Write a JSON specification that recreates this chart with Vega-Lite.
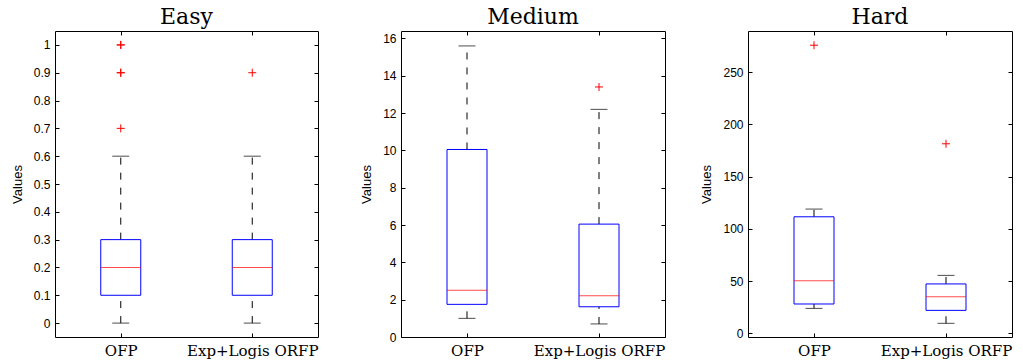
{
  "$schema": "https://vega.github.io/schema/vega-lite/v6.json",
  "background": "white",
  "padding": {"left": 10, "top": 5, "right": 0, "bottom": 0},
  "bounds": "flush",
  "spacing": 83,
  "config": {
    "view": {"stroke": "black", "strokeWidth": 1},
    "axis": {"domain": false, "grid": false, "tickColor": "black", "tickSize": -4, "labelPadding": 9, "labelFont": "Liberation Sans", "labelFontSize": 12, "labelColor": "black", "titleFont": "Liberation Sans", "titleFontSize": 13, "titleFontWeight": "normal", "titleColor": "black", "titlePadding": 9},
    "axisX": {"labelFont": "DejaVu Serif", "labelFontSize": 15, "labelAngle": 0, "labelPadding": 10},
    "title": {"font": "DejaVu Serif", "fontSize": 22, "fontWeight": "normal", "color": "black", "offset": 2}
  },
  "datasets": {
    "boxes": [
      {"panel": "Easy", "group": "OFP", "lo": 0, "q1": 0.1, "med": 0.2, "q3": 0.3, "hi": 0.6},
      {"panel": "Easy", "group": "Exp+Logis ORFP", "lo": 0, "q1": 0.1, "med": 0.2, "q3": 0.3, "hi": 0.6},
      {"panel": "Medium", "group": "OFP", "lo": 1.0, "q1": 1.75, "med": 2.5, "q3": 10.05, "hi": 15.6},
      {"panel": "Medium", "group": "Exp+Logis ORFP", "lo": 0.7, "q1": 1.62, "med": 2.21, "q3": 6.05, "hi": 12.2},
      {"panel": "Hard", "group": "OFP", "lo": 23.9, "q1": 28.1, "med": 50.4, "q3": 111.6, "hi": 119.0},
      {"panel": "Hard", "group": "Exp+Logis ORFP", "lo": 9.6, "q1": 22.0, "med": 35.1, "q3": 47.3, "hi": 55.5}
    ],
    "outliers": [
      {"panel": "Easy", "group": "OFP", "value": 1.0},
      {"panel": "Easy", "group": "OFP", "value": 1.0},
      {"panel": "Easy", "group": "OFP", "value": 0.9},
      {"panel": "Easy", "group": "OFP", "value": 0.9},
      {"panel": "Easy", "group": "OFP", "value": 0.7},
      {"panel": "Easy", "group": "Exp+Logis ORFP", "value": 0.9},
      {"panel": "Medium", "group": "Exp+Logis ORFP", "value": 13.4},
      {"panel": "Hard", "group": "OFP", "value": 275.9},
      {"panel": "Hard", "group": "Exp+Logis ORFP", "value": 181.5}
    ]
  },
  "hconcat": [
    {
      "width": 263, "height": 306,
      "title": "Easy",
      "resolve": {"axis": {"x": "independent", "y": "independent"}},
      "layer": [
        {"data": {"name": "boxes"}, "transform": [{"filter": "datum.panel === 'Easy'"}],
         "mark": {"type": "rule", "color": "black", "strokeDash": [7, 8], "strokeWidth": 1},
         "encoding": {
           "x": {"field": "group", "type": "nominal", "scale": {"type": "point", "padding": 0.5, "domain": ["OFP", "Exp+Logis ORFP"]}, "axis": {"title": null}},
           "y": {"field": "q3", "type": "quantitative", "scale": {"domain": [-0.05, 1.05], "nice": false, "zero": false}, "axis": {"title": "Values", "values": [0, 0.1, 0.2, 0.3, 0.4, 0.5, 0.6, 0.7, 0.8, 0.9, 1], "format": "~g"}},
           "y2": {"field": "hi"}}},
        {"data": {"name": "boxes"}, "transform": [{"filter": "datum.panel === 'Easy'"}],
         "mark": {"type": "rule", "color": "black", "strokeDash": [7, 8], "strokeWidth": 1},
         "encoding": {
           "x": {"field": "group", "type": "nominal", "scale": {"type": "point", "padding": 0.5, "domain": ["OFP", "Exp+Logis ORFP"]}, "axis": null},
           "y": {"field": "lo", "type": "quantitative", "scale": {"domain": [-0.05, 1.05], "nice": false, "zero": false}, "axis": null},
           "y2": {"field": "q1"}}},
        {"data": {"name": "boxes"}, "transform": [{"filter": "datum.panel === 'Easy'"}],
         "mark": {"type": "tick", "color": "black", "size": 17, "thickness": 1},
         "encoding": {
           "x": {"field": "group", "type": "nominal", "scale": {"type": "point", "padding": 0.5, "domain": ["OFP", "Exp+Logis ORFP"]}, "axis": {"orient": "top", "labels": false, "title": null}},
           "y": {"field": "hi", "type": "quantitative", "scale": {"domain": [-0.05, 1.05], "nice": false, "zero": false}, "axis": {"orient": "right", "labels": false, "title": null, "values": [0, 0.1, 0.2, 0.3, 0.4, 0.5, 0.6, 0.7, 0.8, 0.9, 1]}}}},
        {"data": {"name": "boxes"}, "transform": [{"filter": "datum.panel === 'Easy'"}],
         "mark": {"type": "tick", "color": "black", "size": 17, "thickness": 1},
         "encoding": {
           "x": {"field": "group", "type": "nominal", "scale": {"type": "point", "padding": 0.5, "domain": ["OFP", "Exp+Logis ORFP"]}, "axis": null},
           "y": {"field": "lo", "type": "quantitative", "scale": {"domain": [-0.05, 1.05], "nice": false, "zero": false}, "axis": null}}},
        {"data": {"name": "boxes"}, "transform": [{"filter": "datum.panel === 'Easy'"}],
         "mark": {"type": "bar", "width": 40, "fillOpacity": 0, "stroke": "#0000ff", "strokeWidth": 1},
         "encoding": {
           "x": {"field": "group", "type": "nominal", "scale": {"type": "point", "padding": 0.5, "domain": ["OFP", "Exp+Logis ORFP"]}, "axis": null},
           "y": {"field": "q3", "type": "quantitative", "scale": {"domain": [-0.05, 1.05], "nice": false, "zero": false}, "axis": null},
           "y2": {"field": "q1"}}},
        {"data": {"name": "boxes"}, "transform": [{"filter": "datum.panel === 'Easy'"}],
         "mark": {"type": "tick", "color": "#ff0000", "size": 40, "thickness": 1},
         "encoding": {
           "x": {"field": "group", "type": "nominal", "scale": {"type": "point", "padding": 0.5, "domain": ["OFP", "Exp+Logis ORFP"]}, "axis": null},
           "y": {"field": "med", "type": "quantitative", "scale": {"domain": [-0.05, 1.05], "nice": false, "zero": false}, "axis": null}}},
        {"data": {"name": "outliers"}, "transform": [{"filter": "datum.panel === 'Easy'"}],
         "mark": {"type": "point", "shape": "M-1,0L1,0M0,-1L0,1", "size": 64, "filled": false, "stroke": "#ff0000", "strokeWidth": 1, "opacity": 1},
         "encoding": {
           "x": {"field": "group", "type": "nominal", "scale": {"type": "point", "padding": 0.5, "domain": ["OFP", "Exp+Logis ORFP"]}, "axis": null},
           "y": {"field": "value", "type": "quantitative", "scale": {"domain": [-0.05, 1.05], "nice": false, "zero": false}, "axis": null}}}
      ]
    },
    {
      "width": 264, "height": 306,
      "title": "Medium",
      "resolve": {"axis": {"x": "independent", "y": "independent"}},
      "layer": [
        {"data": {"name": "boxes"}, "transform": [{"filter": "datum.panel === 'Medium'"}],
         "mark": {"type": "rule", "color": "black", "strokeDash": [7, 8], "strokeWidth": 1},
         "encoding": {
           "x": {"field": "group", "type": "nominal", "scale": {"type": "point", "padding": 0.5, "domain": ["OFP", "Exp+Logis ORFP"]}, "axis": {"title": null}},
           "y": {"field": "q3", "type": "quantitative", "scale": {"domain": [0, 16.4], "nice": false, "zero": false}, "axis": {"title": "Values", "values": [0, 2, 4, 6, 8, 10, 12, 14, 16], "format": "d"}},
           "y2": {"field": "hi"}}},
        {"data": {"name": "boxes"}, "transform": [{"filter": "datum.panel === 'Medium'"}],
         "mark": {"type": "rule", "color": "black", "strokeDash": [7, 8], "strokeWidth": 1},
         "encoding": {
           "x": {"field": "group", "type": "nominal", "scale": {"type": "point", "padding": 0.5, "domain": ["OFP", "Exp+Logis ORFP"]}, "axis": null},
           "y": {"field": "lo", "type": "quantitative", "scale": {"domain": [0, 16.4], "nice": false, "zero": false}, "axis": null},
           "y2": {"field": "q1"}}},
        {"data": {"name": "boxes"}, "transform": [{"filter": "datum.panel === 'Medium'"}],
         "mark": {"type": "tick", "color": "black", "size": 17, "thickness": 1},
         "encoding": {
           "x": {"field": "group", "type": "nominal", "scale": {"type": "point", "padding": 0.5, "domain": ["OFP", "Exp+Logis ORFP"]}, "axis": {"orient": "top", "labels": false, "title": null}},
           "y": {"field": "hi", "type": "quantitative", "scale": {"domain": [0, 16.4], "nice": false, "zero": false}, "axis": {"orient": "right", "labels": false, "title": null, "values": [0, 2, 4, 6, 8, 10, 12, 14, 16]}}}},
        {"data": {"name": "boxes"}, "transform": [{"filter": "datum.panel === 'Medium'"}],
         "mark": {"type": "tick", "color": "black", "size": 17, "thickness": 1},
         "encoding": {
           "x": {"field": "group", "type": "nominal", "scale": {"type": "point", "padding": 0.5, "domain": ["OFP", "Exp+Logis ORFP"]}, "axis": null},
           "y": {"field": "lo", "type": "quantitative", "scale": {"domain": [0, 16.4], "nice": false, "zero": false}, "axis": null}}},
        {"data": {"name": "boxes"}, "transform": [{"filter": "datum.panel === 'Medium'"}],
         "mark": {"type": "bar", "width": 40, "fillOpacity": 0, "stroke": "#0000ff", "strokeWidth": 1},
         "encoding": {
           "x": {"field": "group", "type": "nominal", "scale": {"type": "point", "padding": 0.5, "domain": ["OFP", "Exp+Logis ORFP"]}, "axis": null},
           "y": {"field": "q3", "type": "quantitative", "scale": {"domain": [0, 16.4], "nice": false, "zero": false}, "axis": null},
           "y2": {"field": "q1"}}},
        {"data": {"name": "boxes"}, "transform": [{"filter": "datum.panel === 'Medium'"}],
         "mark": {"type": "tick", "color": "#ff0000", "size": 40, "thickness": 1},
         "encoding": {
           "x": {"field": "group", "type": "nominal", "scale": {"type": "point", "padding": 0.5, "domain": ["OFP", "Exp+Logis ORFP"]}, "axis": null},
           "y": {"field": "med", "type": "quantitative", "scale": {"domain": [0, 16.4], "nice": false, "zero": false}, "axis": null}}},
        {"data": {"name": "outliers"}, "transform": [{"filter": "datum.panel === 'Medium'"}],
         "mark": {"type": "point", "shape": "M-1,0L1,0M0,-1L0,1", "size": 64, "filled": false, "stroke": "#ff0000", "strokeWidth": 1, "opacity": 1},
         "encoding": {
           "x": {"field": "group", "type": "nominal", "scale": {"type": "point", "padding": 0.5, "domain": ["OFP", "Exp+Logis ORFP"]}, "axis": null},
           "y": {"field": "value", "type": "quantitative", "scale": {"domain": [0, 16.4], "nice": false, "zero": false}, "axis": null}}}
      ]
    },
    {
      "width": 264, "height": 306,
      "title": "Hard",
      "resolve": {"axis": {"x": "independent", "y": "independent"}},
      "layer": [
        {"data": {"name": "boxes"}, "transform": [{"filter": "datum.panel === 'Hard'"}],
         "mark": {"type": "rule", "color": "black", "strokeDash": [7, 8], "strokeWidth": 1},
         "encoding": {
           "x": {"field": "group", "type": "nominal", "scale": {"type": "point", "padding": 0.5, "domain": ["OFP", "Exp+Logis ORFP"]}, "axis": {"title": null}},
           "y": {"field": "q3", "type": "quantitative", "scale": {"domain": [-3.5, 289.5], "nice": false, "zero": false}, "axis": {"title": "Values", "values": [0, 50, 100, 150, 200, 250], "format": "d"}},
           "y2": {"field": "hi"}}},
        {"data": {"name": "boxes"}, "transform": [{"filter": "datum.panel === 'Hard'"}],
         "mark": {"type": "rule", "color": "black", "strokeDash": [7, 8], "strokeWidth": 1},
         "encoding": {
           "x": {"field": "group", "type": "nominal", "scale": {"type": "point", "padding": 0.5, "domain": ["OFP", "Exp+Logis ORFP"]}, "axis": null},
           "y": {"field": "lo", "type": "quantitative", "scale": {"domain": [-3.5, 289.5], "nice": false, "zero": false}, "axis": null},
           "y2": {"field": "q1"}}},
        {"data": {"name": "boxes"}, "transform": [{"filter": "datum.panel === 'Hard'"}],
         "mark": {"type": "tick", "color": "black", "size": 17, "thickness": 1},
         "encoding": {
           "x": {"field": "group", "type": "nominal", "scale": {"type": "point", "padding": 0.5, "domain": ["OFP", "Exp+Logis ORFP"]}, "axis": {"orient": "top", "labels": false, "title": null}},
           "y": {"field": "hi", "type": "quantitative", "scale": {"domain": [-3.5, 289.5], "nice": false, "zero": false}, "axis": {"orient": "right", "labels": false, "title": null, "values": [0, 50, 100, 150, 200, 250]}}}},
        {"data": {"name": "boxes"}, "transform": [{"filter": "datum.panel === 'Hard'"}],
         "mark": {"type": "tick", "color": "black", "size": 17, "thickness": 1},
         "encoding": {
           "x": {"field": "group", "type": "nominal", "scale": {"type": "point", "padding": 0.5, "domain": ["OFP", "Exp+Logis ORFP"]}, "axis": null},
           "y": {"field": "lo", "type": "quantitative", "scale": {"domain": [-3.5, 289.5], "nice": false, "zero": false}, "axis": null}}},
        {"data": {"name": "boxes"}, "transform": [{"filter": "datum.panel === 'Hard'"}],
         "mark": {"type": "bar", "width": 40, "fillOpacity": 0, "stroke": "#0000ff", "strokeWidth": 1},
         "encoding": {
           "x": {"field": "group", "type": "nominal", "scale": {"type": "point", "padding": 0.5, "domain": ["OFP", "Exp+Logis ORFP"]}, "axis": null},
           "y": {"field": "q3", "type": "quantitative", "scale": {"domain": [-3.5, 289.5], "nice": false, "zero": false}, "axis": null},
           "y2": {"field": "q1"}}},
        {"data": {"name": "boxes"}, "transform": [{"filter": "datum.panel === 'Hard'"}],
         "mark": {"type": "tick", "color": "#ff0000", "size": 40, "thickness": 1},
         "encoding": {
           "x": {"field": "group", "type": "nominal", "scale": {"type": "point", "padding": 0.5, "domain": ["OFP", "Exp+Logis ORFP"]}, "axis": null},
           "y": {"field": "med", "type": "quantitative", "scale": {"domain": [-3.5, 289.5], "nice": false, "zero": false}, "axis": null}}},
        {"data": {"name": "outliers"}, "transform": [{"filter": "datum.panel === 'Hard'"}],
         "mark": {"type": "point", "shape": "M-1,0L1,0M0,-1L0,1", "size": 64, "filled": false, "stroke": "#ff0000", "strokeWidth": 1, "opacity": 1},
         "encoding": {
           "x": {"field": "group", "type": "nominal", "scale": {"type": "point", "padding": 0.5, "domain": ["OFP", "Exp+Logis ORFP"]}, "axis": null},
           "y": {"field": "value", "type": "quantitative", "scale": {"domain": [-3.5, 289.5], "nice": false, "zero": false}, "axis": null}}}
      ]
    }
  ]
}
